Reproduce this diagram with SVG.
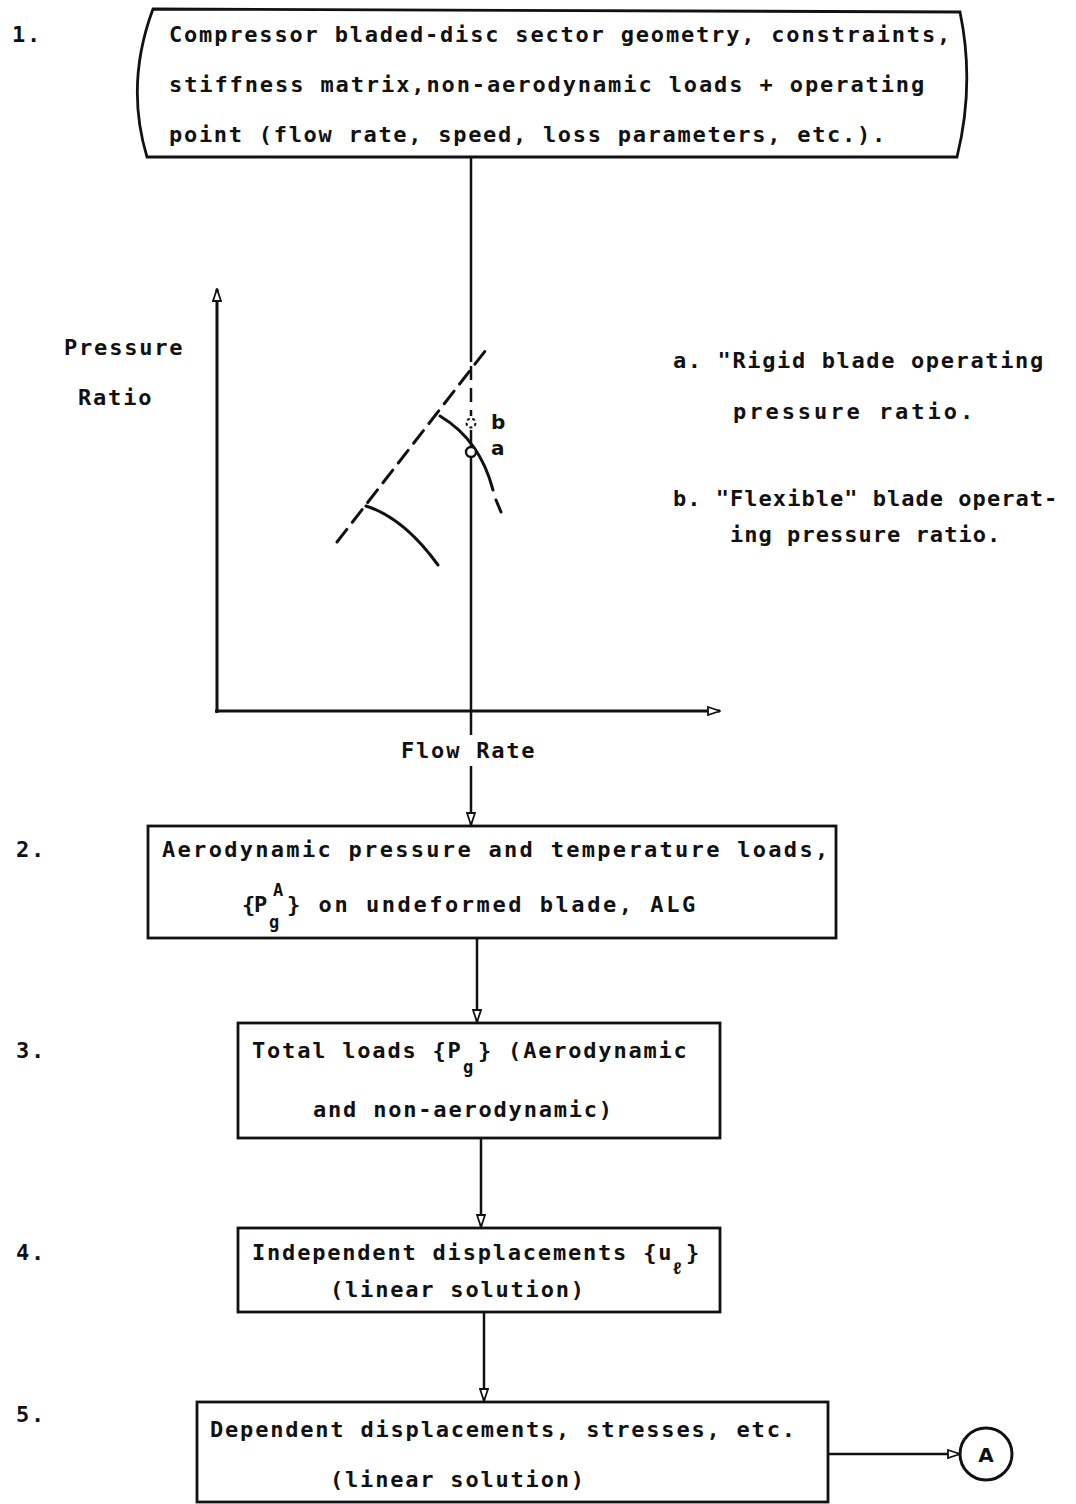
<svg xmlns="http://www.w3.org/2000/svg" width="1076" height="1504" viewBox="0 0 1076 1504">
<style>
.t{font-family:"DejaVu Sans Mono","Liberation Mono",monospace;font-weight:bold;font-size:22px;letter-spacing:1.8px;fill:#111}
.s{font-size:17px;letter-spacing:0}
.sm{font-family:"DejaVu Sans","Liberation Sans",sans-serif;font-weight:bold;font-size:20px;fill:#111}
.box{fill:#fff;stroke:#111;stroke-width:2.8}
.ln{fill:none;stroke:#111;stroke-width:2.5}
.ax{fill:none;stroke:#111;stroke-width:3}
.cv{fill:none;stroke:#111;stroke-width:3;stroke-linecap:round}
</style>
<defs>
<marker id="ah" markerUnits="userSpaceOnUse" markerWidth="14" markerHeight="10" refX="13" refY="5" orient="auto">
<path d="M1,1 L13,5 L1,9 Z" fill="#fff" stroke="#111" stroke-width="1.8"/>
</marker>
</defs>
<rect width="1076" height="1504" fill="#fff"/>

<g id="step-numbers">
<text class="t" x="12" y="42">1.</text>
<text class="t" x="16" y="857">2.</text>
<text class="t" x="16" y="1058">3.</text>
<text class="t" x="16" y="1260">4.</text>
<text class="t" x="16" y="1422">5.</text>
</g>

<g id="node1">
<path class="box" d="M153,9 L960,12 Q975,84 957,157 L147,157 Q125,84 153,9 Z"/>
<text class="t" x="169" y="42" textLength="783" lengthAdjust="spacing">Compressor bladed-disc sector geometry, constraints,</text>
<text class="t" x="169" y="92" textLength="757" lengthAdjust="spacing">stiffness  matrix,non-aerodynamic loads + operating</text>
<text class="t" x="169" y="142" textLength="718" lengthAdjust="spacing">point (flow rate, speed, loss parameters, etc.).</text>
</g>

<g id="graph">
<line class="ax" x1="217" y1="713" x2="217" y2="289" marker-end="url(#ah)"/>
<line class="ax" x1="215" y1="711" x2="720" y2="711" marker-end="url(#ah)"/>
<text class="t" x="64" y="355">Pressure</text>
<text class="t" x="78" y="405">Ratio</text>
<text class="t" x="401" y="758">Flow Rate</text>
<line class="cv" x1="337" y1="542" x2="489" y2="346" stroke-dasharray="16 9"/>
<path class="cv" d="M440,416 Q480,440 493,490"/>
<path class="cv" d="M496,500 L501,512"/>
<path class="cv" d="M366,506 Q404,518 438,565"/>
<circle cx="471" cy="423" r="4.5" fill="#fff" stroke="#111" stroke-width="2" stroke-dasharray="3 2.5"/>
<line class="ln" x1="471" y1="430" x2="471" y2="446"/>
<circle cx="471" cy="452" r="5" fill="#fff" stroke="#111" stroke-width="2.4"/>
<text class="sm" x="491" y="429">b</text>
<text class="sm" x="491" y="455">a</text>
</g>

<g id="legend">
<text class="t" x="673" y="368" textLength="372" lengthAdjust="spacing">a. "Rigid blade operating</text>
<text class="t" x="733" y="419" textLength="242" lengthAdjust="spacing">pressure ratio.</text>
<text class="t" x="673" y="506" textLength="386" lengthAdjust="spacing">b. "Flexible" blade operat-</text>
<text class="t" x="730" y="542" textLength="272" lengthAdjust="spacing">ing pressure ratio.</text>
</g>

<g id="node2">
<rect class="box" x="148" y="826" width="688" height="112"/>
<text class="t" x="162" y="857" textLength="668" lengthAdjust="spacing">Aerodynamic pressure and temperature loads,</text>
<text class="t" x="242" y="912">{</text>
<text class="t" x="254" y="912">P</text>
<text class="t s" x="269" y="928">g</text>
<text class="t s" x="273" y="896">A</text>
<text class="t" x="287" y="912" textLength="410" lengthAdjust="spacing">} on undeformed blade, ALG</text>
</g>

<g id="node3">
<rect class="box" x="238" y="1023" width="482" height="115"/>
<text class="t" x="252" y="1058">Total loads {P</text>
<text class="t s" x="463" y="1073">g</text>
<text class="t" x="478" y="1058">} (Aerodynamic</text>
<text class="t" x="313" y="1117">and non-aerodynamic)</text>
</g>

<g id="node4">
<rect class="box" x="238" y="1228" width="482" height="84"/>
<text class="t" x="252" y="1260">Independent displacements {u</text>
<text class="t s" x="672" y="1274">ℓ</text>
<text class="t" x="686" y="1260">}</text>
<text class="t" x="330" y="1297">(linear solution)</text>
</g>

<g id="node5">
<rect class="box" x="197" y="1402" width="631" height="100"/>
<text class="t" x="210" y="1437">Dependent displacements, stresses, etc.</text>
<text class="t" x="330" y="1487">(linear solution)</text>
</g>

<g id="nodeA">
<circle cx="986" cy="1454" r="26" fill="#fff" stroke="#111" stroke-width="3"/>
<text class="sm" x="986" y="1462" text-anchor="middle">A</text>
</g>

<g id="connectors">
<line class="ln" x1="471" y1="157" x2="471" y2="362"/>
<line class="ln" x1="471" y1="366" x2="471" y2="416" stroke-dasharray="14 8"/>
<line class="ln" x1="471" y1="458" x2="471" y2="735"/>
<line class="ln" x1="471" y1="766" x2="471" y2="825" marker-end="url(#ah)"/>
<line class="ln" x1="477" y1="938" x2="477" y2="1022" marker-end="url(#ah)"/>
<line class="ln" x1="481" y1="1138" x2="481" y2="1227" marker-end="url(#ah)"/>
<line class="ln" x1="484" y1="1312" x2="484" y2="1401" marker-end="url(#ah)"/>
<line class="ln" x1="828" y1="1454" x2="960" y2="1454" marker-end="url(#ah)"/>
</g>
</svg>
